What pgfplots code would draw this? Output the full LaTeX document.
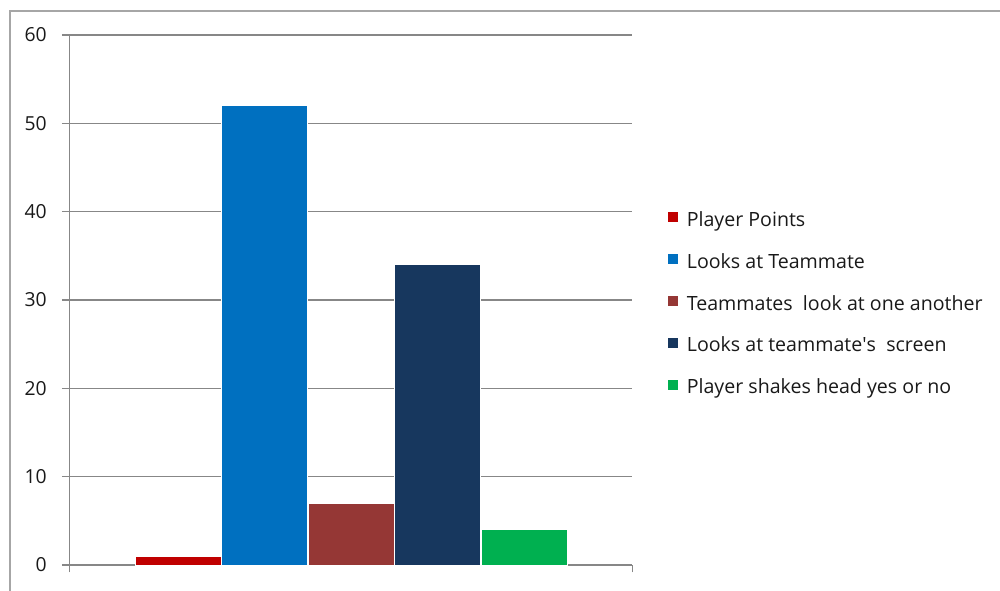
\documentclass[border=0pt]{standalone}
\usepackage{pgfplots}
\pgfplotsset{compat=1.18}
\usepackage{fontspec}
\setmainfont{Open Sans}
\definecolor{cRed}{HTML}{C00000}
\definecolor{cBlue}{HTML}{0070C0}
\definecolor{cBrown}{HTML}{953735}
\definecolor{cNavy}{HTML}{17375E}
\definecolor{cGreen}{HTML}{00B050}
\definecolor{gridgray}{HTML}{878787}
\definecolor{framegray}{HTML}{A6A6A6}
\begin{document}
\begin{tikzpicture}
\useasboundingbox (0,0) rectangle (750pt,442.5pt);
\draw[framegray, line width=1.3pt] (7.5pt,-2pt) -- (7.5pt,434.5pt) -- (752pt,434.5pt);
\begin{axis}[
  at={(52pt,18.75pt)}, anchor=south west,
  scale only axis,
  width=422.25pt, height=397.5pt,
  xmin=69, xmax=632, ymin=0, ymax=60,
  ytick={0,10,...,60},
  xtick={69,632}, xticklabels={},
  axis x line*=bottom, axis y line*=left,
  axis line style={gridgray, line width=0.9pt},
  ymajorgrids,
  major grid style={gridgray, line width=0.9pt},
  tick style={gridgray, line width=0.9pt},
  tick align=outside,
  major tick length=5.5pt,
  /pgf/number format/assume math mode=true,
  yticklabel style={font=\fontsize{14.5pt}{16pt}\selectfont, text=black!90, xshift=-8pt},
  ybar, bar shift=0pt, bar width=86,
  every axis plot/.append style={draw=white, line width=0.75pt},
  legend style={at={(1.062,0.491)}, anchor=west, draw=none, fill=none,
    inner sep=0pt, row sep=18.4pt, column sep=7pt,
    font=\fontsize{14.7pt}{16pt}\selectfont, text=black!90,
    nodes={inner sep=0pt, text height=9.5pt, text depth=2.5pt}},
  legend cell align=left,
  legend image code/.code={\fill[#1, draw=none] (0pt,-0.5pt) rectangle (7.5pt,7pt);},
]
\addplot[fill=cRed] coordinates {(178,1)};
\addplot[fill=cBlue] coordinates {(264.5,52)};
\addplot[fill=cBrown] coordinates {(351,7)};
\addplot[fill=cNavy] coordinates {(437.5,34)};
\addplot[fill=cGreen] coordinates {(524,4)};
\legend{Player Points, Looks at Teammate, Teammates\ \ look at one another, Looks at teammate\textquotesingle s\ \ screen, Player shakes head yes or no}
\end{axis}
\end{tikzpicture}
\end{document}
